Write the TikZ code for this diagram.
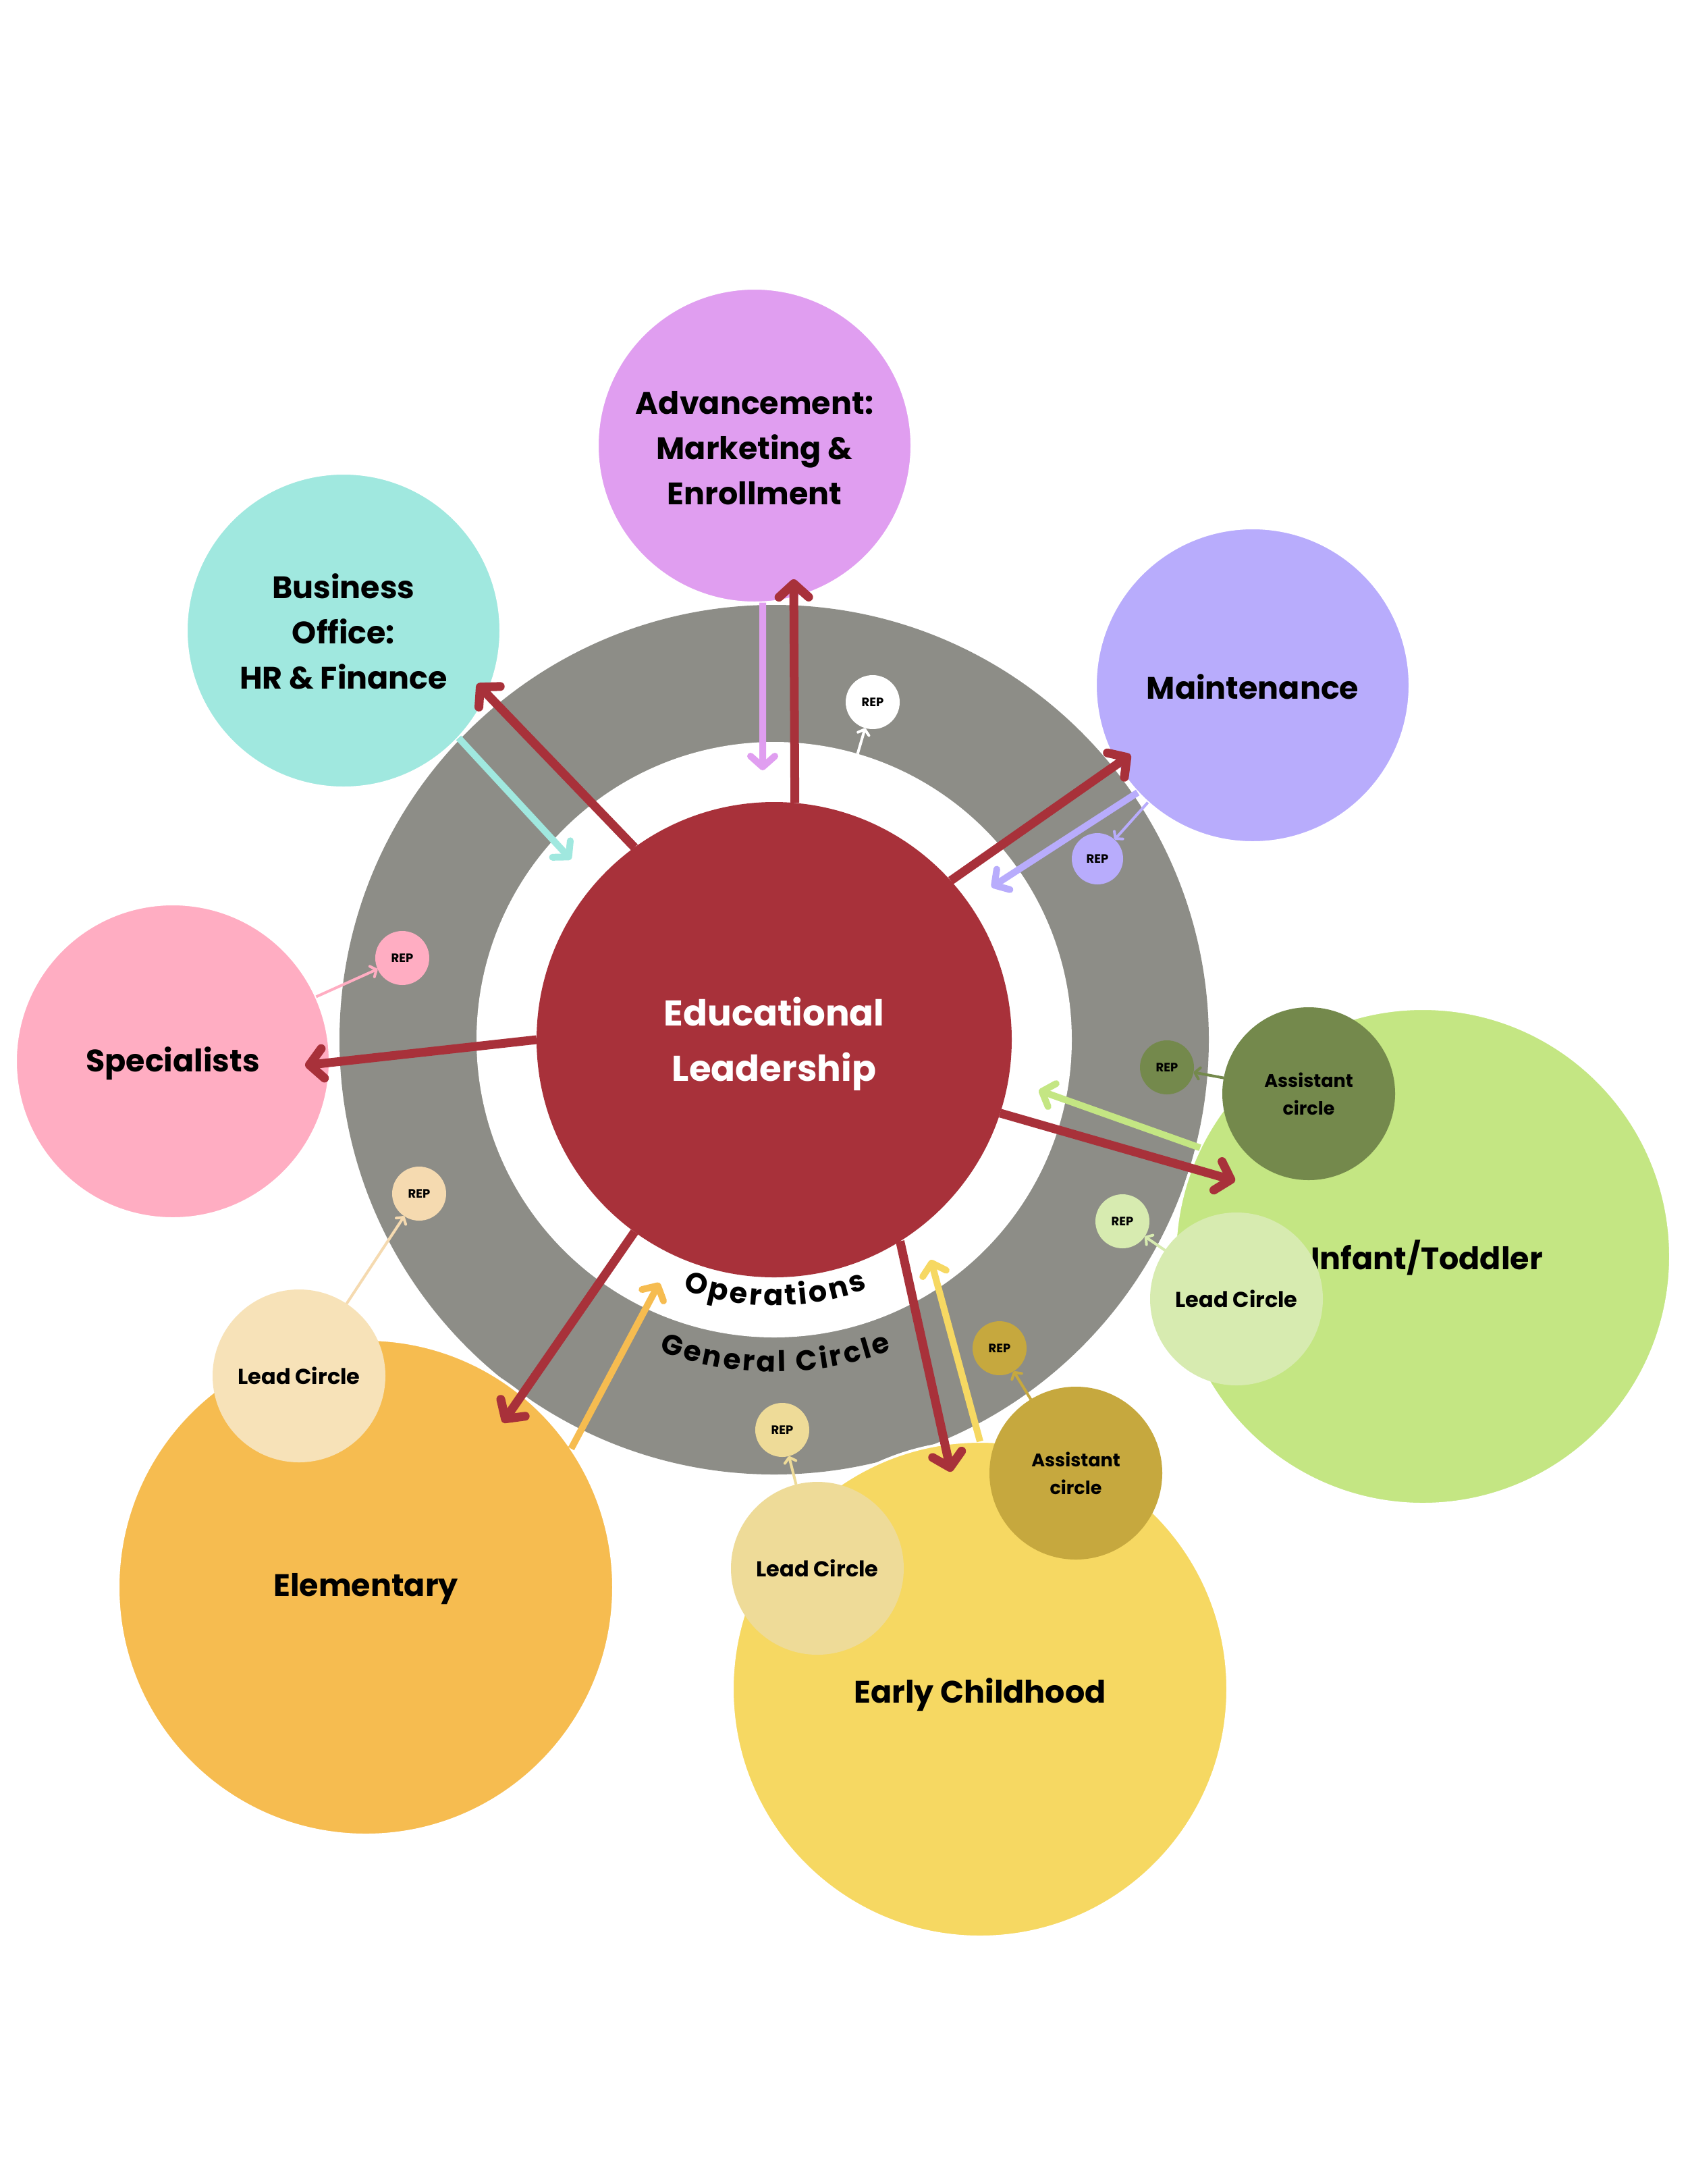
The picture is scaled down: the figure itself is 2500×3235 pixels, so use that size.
\documentclass[tikz,border=0pt]{standalone}
\usepackage{fontspec}
\setmainfont{Poppins}
\usetikzlibrary{arrows.meta,decorations.text}
\definecolor{ringgrey}{HTML}{8D8D87}
\definecolor{edured}{HTML}{A8313A}
\definecolor{advc}{HTML}{E09EF0}
\definecolor{busc}{HTML}{A0E8DF}
\definecolor{mainc}{HTML}{B8ACFC}
\definecolor{specc}{HTML}{FFADC2}
\definecolor{infc}{HTML}{C4E683}
\definecolor{elemc}{HTML}{F6BC50}
\definecolor{earlyc}{HTML}{F6D862}
\definecolor{asgreen}{HTML}{74894C}
\definecolor{leadgreen}{HTML}{D7EBB0}
\definecolor{asgold}{HTML}{C6A83E}
\definecolor{leadyellow}{HTML}{EEDB98}
\definecolor{leadelem}{HTML}{F7E2B8}
\definecolor{repelem}{HTML}{F5DAB0}
\begin{document}
\begin{tikzpicture}[x=1pt,y=1pt,
  bigc/.style={circle, inner sep=0pt, outer sep=0pt, draw=white, line width=4pt, minimum size=466pt},
  hugec/.style={bigc, minimum size=734pt},
  lab/.style={align=center, font=\fontsize{46}{67}\selectfont\bfseries},
  smallc/.style={circle, inner sep=0pt, outer sep=0pt, minimum size=256pt, align=center, font=\fontsize{27}{41}\selectfont\bfseries},
  leadc/.style={smallc, font=\fontsize{32}{40}\selectfont\bfseries},
  repc/.style={circle, inner sep=0pt, outer sep=0pt, minimum size=80pt, font=\fontsize{18}{20}\selectfont\bfseries},
  redarrow/.style={draw=edured, line width=13pt, -{Straight Barb[round,length=20pt,width=44pt]}},
  colarrow/.style={line width=10pt, -{Straight Barb[round,length=16pt,width=36pt]}},
  thinarrow/.style={line width=4pt, -{Straight Barb[round,length=7pt,width=17pt]}}
]
\useasboundingbox (0,0) rectangle (2500,-3235);
\fill[white] (0,0) rectangle (2500,-3235);

% central rings
\node[circle, fill=ringgrey, inner sep=0pt, outer sep=0pt, minimum size=1288pt] (gen) at (1147,-1540) {};
\node[circle, fill=white, inner sep=0pt, outer sep=0pt, minimum size=882pt] (ops) at (1147,-1540) {};
\node[circle, fill=edured, inner sep=0pt, outer sep=0pt, minimum size=704pt] (edu) at (1147,-1540) {};
\node[text=white, align=center, font=\fontsize{53}{82}\selectfont\bfseries] (edulab) at (1147,-1546) {Educational\\Leadership};

% outer circles
\node[bigc, fill=advc] (adv) at (1118,-660) {};
\node[lab] (advlab) at (1118,-664) {Advancement:\\Marketing \&\\Enrollment};
\node[bigc, fill=busc] (bus) at (509,-934) {};
\node[lab] (buslab) at (509,-935) {Business\\Office:\\HR \& Finance};
\node[bigc, fill=mainc] (maint) at (1856,-1015) {};
\node[lab] (maintlab) at (1856,-1017) {Maintenance};
\node[bigc, fill=specc] (spec) at (256,-1572) {};
\node[lab] (speclab) at (256,-1575) {Specialists};
\node[hugec, fill=infc] (inf) at (2108,-1861) {};
\node[lab] (inflab) at (2114,-1863) {Infant/Toddler};
\node[hugec, fill=elemc] (elem) at (542,-2351) {};
\node[lab] (elemlab) at (542,-2354) {Elementary};
\node[hugec, fill=earlyc] (early) at (1452,-2502) {};
\node[lab] (earlylab) at (1452,-2510) {Early Childhood};

% sub circles
\node[smallc, fill=asgreen] (asg) at (1939,-1620) {Assistant\\circle};
\node[leadc, fill=leadgreen] (leadg) at (1832,-1924) {Lead Circle};
\node[smallc, fill=asgold] (asgo) at (1594,-2182) {Assistant\\circle};
\node[leadc, fill=leadyellow] (leady) at (1211,-2323) {Lead Circle};
\node[leadc, fill=leadelem] (leade) at (443,-2038) {Lead Circle};

% REP circles
\node[repc, fill=white] (repw) at (1293,-1040) {REP};
\node[repc, fill=mainc, minimum size=76pt] (repm) at (1626,-1272) {REP};
\node[repc, fill=specc] (repp) at (596,-1419) {REP};
\node[repc, fill=asgreen] (repg) at (1729,-1581) {REP};
\node[repc, fill=leadgreen] (replg) at (1663,-1809) {REP};
\node[repc, fill=repelem] (repe) at (621,-1768) {REP};
\node[repc, fill=asgold] (repgo) at (1481,-1997) {REP};
\node[repc, fill=leadyellow] (repy) at (1159,-2118) {REP};

% end points
\coordinate (t1) at (1176,-858);
\coordinate (t2) at (707,-1013);
\coordinate (t3) at (1675,-1118);
\coordinate (t4) at (452,-1578);
\coordinate (t5) at (1830,-1749);
\coordinate (t6) at (745,-2107);
\coordinate (t7) at (1409,-2180);
\coordinate (c1) at (1130,-1141);
\coordinate (c2) at (846,-1273);
\coordinate (c3) at (1469,-1314);
\coordinate (c4) at (1539,-1615);
\coordinate (c5) at (977,-1900);
\coordinate (c6) at (1379,-1866);

% red arrows
\draw[redarrow] (edu.85) -- (t1);
\draw[redarrow] (edu.126) -- (t2);
\draw[redarrow] (edu.42) -- (t3);
\draw[redarrow] (edu.180) -- (t4);
\draw[redarrow] (edu.-18) -- (t5);
\draw[redarrow] (edu.234) -- (t6);
\draw[redarrow] (edu.-58) -- (t7);

% coloured arrows
\draw[colarrow, draw=advc] (adv.-87) -- (c1);
\draw[colarrow, draw=busc] (bus.-43) -- (c2);
\draw[colarrow, draw=mainc] (maint.223) -- (c3);
\draw[colarrow, draw=infc] (inf.154) -- (c4);
\draw[colarrow, draw=elemc] (elem.34) -- (c5);
\draw[colarrow, draw=earlyc] (early.90) -- (c6);

% thin arrows to REPs
\draw[thinarrow, draw=white] (ops) -- (repw);
\draw[thinarrow, draw=mainc] (maint) -- (repm);
\draw[thinarrow, draw=specc] (spec) -- (repp);
\draw[thinarrow, draw=asgreen] (asg) -- (repg);
\draw[thinarrow, draw=leadgreen] (leadg) -- (replg);
\draw[thinarrow, draw=repelem] (leade) -- (repe);
\draw[thinarrow, draw=asgold] (asgo) -- (repgo);
\draw[thinarrow, draw=leadyellow] (leady) -- (repy);

% curved labels
\path[decorate, decoration={text along path, text align=center,
   text={|\fontsize{43}{50}\selectfont\bfseries\kern3.5pt|Operations}}]
   (1147,-1540) ++(235:394) arc[start angle=235, end angle=305, radius=394];
\path[decorate, decoration={text along path, text align=center,
   text={|\fontsize{42}{50}\selectfont\bfseries\kern3.5pt|General Circle}}]
   (1147,-1540) ++(228:492) arc[start angle=228, end angle=312, radius=492];
\end{tikzpicture}
\end{document}
